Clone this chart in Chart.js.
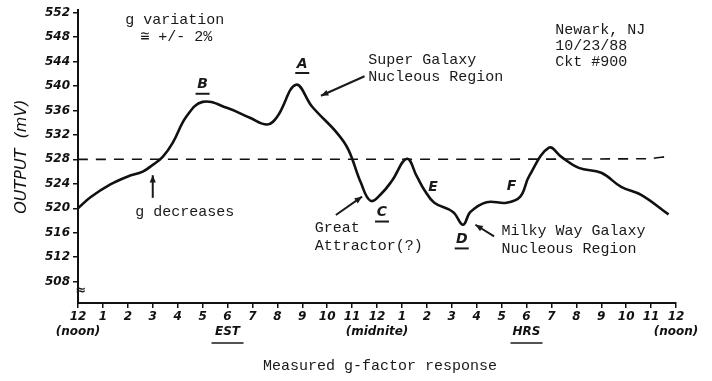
<!DOCTYPE html>
<html>
<head>
<meta charset="utf-8">
<script src="https://cdn.jsdelivr.net/npm/chart.js@4/dist/chart.umd.min.js"></script>
<style>
  html, body { margin: 0; padding: 0; background: #fff; }
  #wrap { width: 712px; height: 381px; }
</style>
</head>
<body>
<div id="wrap"><canvas id="gChart"></canvas></div>
<script>
// hours after noon, output in mV
const hours = [0, 0.5, 1.3, 2.0, 2.6, 3.0, 3.4, 3.8, 4.35, 5.0, 6.0, 6.9, 7.6, 8.0, 8.75, 9.4, 10.4, 10.85, 11.35, 11.75, 12.2, 12.6, 13.2, 13.6, 13.9, 14.3, 15.05, 15.45, 15.75, 16.4, 17.2, 17.75, 18.1, 18.9, 19.4, 20.1, 21.0, 21.8, 22.6, 23.7];
const output = [520, 521.8, 523.9, 525.2, 526, 527.1, 528.4, 530.7, 535, 537.4, 536.4, 534.8, 533.7, 535, 540.2, 536.6, 532.3, 529.6, 524.2, 521.2, 522.5, 524.5, 528.1, 525.2, 523, 520.9, 519.4, 517.3, 519.4, 521, 520.9, 521.9, 525.2, 529.9, 528.4, 526.6, 525.8, 523.5, 522.2, 519];

const refHours = [0, 22.8, 23.7];
const refOutput = [528, 528.1, 528.5];

const yTicks = [508, 512, 516, 520, 524, 528, 532, 536, 540, 544, 548, 552];
const hourLabels = ['12', '1', '2', '3', '4', '5', '6', '7', '8', '9', '10', '11',
                    '12', '1', '2', '3', '4', '5', '6', '7', '8', '9', '10', '11', '12'];
const subLabels = { 0: '(noon)', 6: 'EST', 12: '(midnite)', 18: 'HRS', 24: '(noon)' };

// notes placed in data coordinates [hour, mV]
const notes = [
  { t: 'g variation', at: [1.9, 550.8] },
  { t: '\u2245 +/- 2%', at: [2.5, 548.0] },
  { t: 'Newark, NJ', at: [19.15, 549.2] },
  { t: '10/23/88', at: [19.15, 546.5] },
  { t: 'Ckt #900', at: [19.15, 543.9] },
  { t: 'Super Galaxy', at: [11.65, 544.3] },
  { t: 'Nucleous Region', at: [11.65, 541.4] },
  { t: 'g decreases', at: [2.3, 519.4] },
  { t: 'Great', at: [9.5, 516.8] },
  { t: 'Attractor(?)', at: [9.5, 513.9] },
  { t: 'Milky Way Galaxy', at: [17.0, 516.2] },
  { t: 'Nucleous Region', at: [17.0, 513.3] }
];
const letters = [
  { t: 'A', at: [9.0, 543.6], u: true },
  { t: 'B', at: [5.0, 540.2], u: true },
  { t: 'C', at: [12.2, 519.3], u: true },
  { t: 'D', at: [15.4, 514.9], u: true },
  { t: 'E', at: [14.25, 523.4], u: false },
  { t: 'F', at: [17.4, 523.5], u: false }
];
const arrows = [
  { from: [11.5, 541.6], to: [9.75, 538.4] },
  { from: [3.0, 521.7], to: [3.0, 525.4] },
  { from: [10.35, 518.9], to: [11.4, 521.9] },
  { from: [16.7, 515.4], to: [15.95, 517.3] }
];

const mono = '"Liberation Mono", "DejaVu Sans Mono", monospace';
const hand = '"DejaVu Sans", sans-serif';

const notesPlugin = {
  id: 'notes',
  afterDraw(chart) {
    const { ctx, scales: { x, y }, chartArea } = chart;
    const px = p => [x.getPixelForValue(p[0]), y.getPixelForValue(p[1])];
    ctx.save();
    ctx.fillStyle = '#1a1a1a';
    ctx.strokeStyle = '#1a1a1a';
    ctx.font = '15px ' + mono;
    ctx.textBaseline = 'middle';
    ctx.textAlign = 'left';
    notes.forEach(n => {
      const [a, b] = px(n.at);
      ctx.fillText(n.t, a, b);
    });

    ctx.font = 'italic bold 14px ' + hand;
    ctx.textAlign = 'center';
    ctx.lineWidth = 2;
    letters.forEach(l => {
      const [a, b] = px(l.at);
      ctx.fillText(l.t, a, b);
      if (l.u) {
        ctx.beginPath();
        ctx.moveTo(a - 7, b + 9);
        ctx.lineTo(a + 7, b + 9);
        ctx.stroke();
      }
    });

    ctx.lineWidth = 2;
    arrows.forEach(r => {
      const [x1, y1] = px(r.from);
      const [x2, y2] = px(r.to);
      ctx.beginPath();
      ctx.moveTo(x1, y1);
      ctx.lineTo(x2, y2);
      ctx.stroke();
      const ang = Math.atan2(y2 - y1, x2 - x1);
      ctx.beginPath();
      ctx.moveTo(x2, y2);
      ctx.lineTo(x2 - 8 * Math.cos(ang - 0.4), y2 - 8 * Math.sin(ang - 0.4));
      ctx.lineTo(x2 - 8 * Math.cos(ang + 0.4), y2 - 8 * Math.sin(ang + 0.4));
      ctx.closePath();
      ctx.fill();
    });

    // underline EST / HRS
    ctx.lineWidth = 1.5;
    [6, 18].forEach(h => {
      const a = x.getPixelForValue(h);
      const b = chartArea.bottom + 40;
      ctx.beginPath();
      ctx.moveTo(a - 16, b);
      ctx.lineTo(a + 16, b);
      ctx.stroke();
    });

    // axis break mark
    ctx.font = 'bold 13px ' + hand;
    ctx.fillText('\u2248', chartArea.left + 3, chartArea.bottom - 12);

    // bottom title
    ctx.font = '15px ' + mono;
    ctx.fillText('Measured g-factor response', (chartArea.left + chartArea.right) / 2 + 3, 366);
    ctx.restore();
  }
};

new Chart(document.getElementById('gChart'), {
  type: 'line',
  data: {
    datasets: [{
      data: hours.map((h, i) => ({ x: h, y: output[i] })),
      borderColor: '#111',
      borderWidth: 2.6,
      pointRadius: 0,
      tension: 0.4,
      fill: false
    }, {
      data: refHours.map((h, i) => ({ x: h, y: refOutput[i] })),
      borderColor: '#111',
      borderWidth: 1.6,
      borderDash: [10, 8],
      pointRadius: 0,
      tension: 0.3,
      fill: false
    }]
  },
  options: {
    responsive: true,
    maintainAspectRatio: false,
    animation: false,
    layout: { padding: { left: 0, right: 36, top: 10, bottom: 0 } },
    plugins: { legend: { display: false }, tooltip: { enabled: false } },
    scales: {
      x: {
        type: 'linear',
        min: 0,
        max: 24,
        afterFit: s => { s.height = 78; },
        afterBuildTicks: s => { s.ticks = hourLabels.map((_, i) => ({ value: i })); },
        ticks: {
          autoSkip: false,
          maxRotation: 0,
          padding: 2,
          color: '#111',
          font: { family: hand, size: 12, style: 'italic', weight: 'bold' },
          callback: v => subLabels[v] ? [hourLabels[v], subLabels[v]] : hourLabels[v]
        },
        grid: { drawOnChartArea: false, tickLength: 5, color: '#111', lineWidth: 1.5 },
        border: { color: '#111', width: 2 }
      },
      y: {
        min: 504.5,
        max: 552.4,
        afterFit: s => { s.width = 78; },
        afterBuildTicks: s => { s.ticks = yTicks.map(v => ({ value: v })); },
        ticks: {
          padding: 3,
          color: '#111',
          font: { family: hand, size: 12, style: 'italic', weight: 'bold' }
        },
        grid: { drawOnChartArea: false, tickLength: 5, color: '#111', lineWidth: 1.5 },
        border: { color: '#111', width: 2 },
        title: {
          display: true,
          text: 'OUTPUT  (mV)',
          color: '#111',
          padding: { top: 12, bottom: 4 },
          font: { family: hand, size: 16, style: 'italic' }
        }
      }
    }
  },
  plugins: [notesPlugin]
});
</script>
</body>
</html>
